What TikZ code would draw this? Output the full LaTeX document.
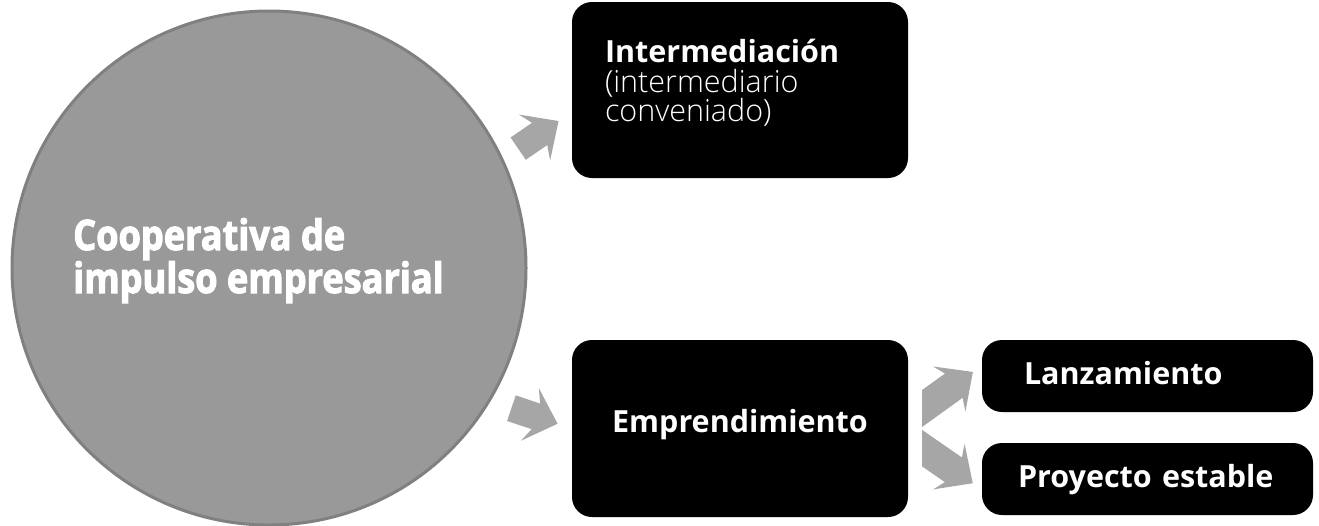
\documentclass[tikz,border=0pt]{standalone}
\usepackage{fontspec}
\setmainfont{Open Sans}
\IfFontExistsTF{Open Sans Light}
  {\newfontfamily\lightfont{Open Sans Light}}
  {\newfontfamily\lightfont{Open Sans}}
\IfFontExistsTF{Open Sans ExtraBold}
  {\newfontfamily\heavyfont[FakeStretch=0.86,FakeBold=1]{Open Sans ExtraBold}}
  {\newfontfamily\heavyfont[FakeStretch=0.86,FakeBold=2.5]{Open Sans Bold}}
\usetikzlibrary{arrows.meta}
\definecolor{bubblegray}{RGB}{153,153,153}
\definecolor{bubbleline}{RGB}{128,128,128}
\definecolor{arrowgray}{RGB}{166,166,166}
\tikzset{>={Stealth[length=29pt,width=55pt,inset=12pt]}}

\begin{document}
\begin{tikzpicture}[x=1pt,y=-1pt]
\tikzset{
  box/.style={
    fill=black,
    rounded corners=20pt,
    text=white,
    inner sep=0pt,
    anchor=center,
    font=\fontsize{30.5}{29.5}\selectfont
  },
  fatarrow/.style={
    draw=arrowgray,
    line width=27pt,
    ->
  }
};

\tikzstyle{pill}=[box,minimum height=72pt,text height=23pt,text depth=7pt,align=left]

\useasboundingbox (0,0) rectangle (1319,525);

 \node[circle,fill=bubblegray,draw=bubbleline,line width=3pt,
       minimum size=514pt,inner sep=0pt] (coop) at (269,268) {};
 \node[anchor=base west,align=left,text=white,inner sep=0pt,
       font=\heavyfont\fontsize{42}{33}\selectfont] (cooptext) at (73,293)
       {Cooperativa de\\impulso empresarial};

 \node[box,minimum height=176pt,inner xsep=33pt,text width=270pt,align=left,text depth=78pt]
       (inter) at (740,90)
       {\textbf{Intermediación}\\\lightfont(intermediario\\conveniado)};
 \node[box,minimum width=336pt,minimum height=177pt,text height=23pt,text depth=16pt]
       (empr) at (740,428.5) {\textbf{Emprendimiento}};

 \node[pill,inner xsep=42pt,text width=247pt] (lanz) at (1147.5,376) {\textbf{Lanzamiento}};
 \node[pill,inner xsep=36pt,text width=259pt] (proj) at (1147.5,479) {\textbf{Proyecto estable}};

  \draw[fatarrow,shorten <=18pt,shorten >=16pt] (coop.25) -- ([yshift=-22pt]inter.west);
  \draw[fatarrow,shorten <=22pt,shorten >=15pt] (coop.-31) -- (empr.west);
  \begin{scope}
    \clip (922,300) rectangle (1000,525);
    \draw[fatarrow,line width=30pt,shorten >=11pt] ([yshift=10pt]empr.east) -- ([yshift=10.5pt]lanz.west);
    \draw[fatarrow,line width=30pt,shorten >=11pt] ([yshift=-10pt]empr.east) -- ([yshift=-10.5pt]proj.west);
  \end{scope}
\end{tikzpicture}
\end{document}
